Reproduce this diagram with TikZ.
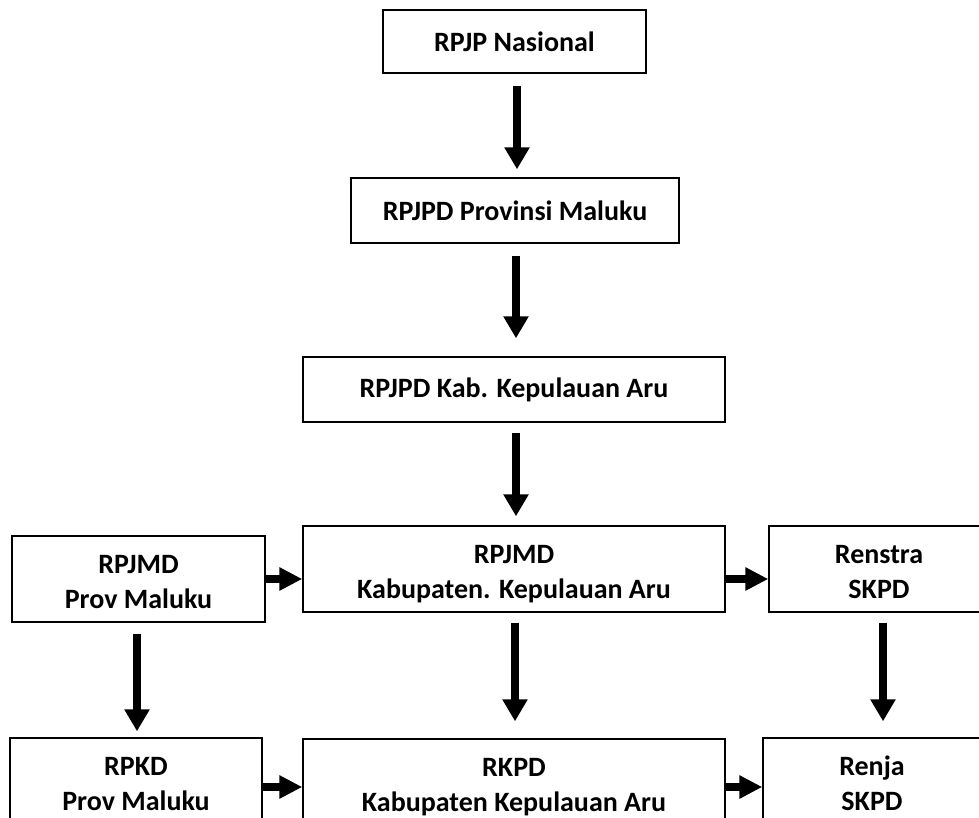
\documentclass[tikz,border=0pt]{standalone}
\usepackage{fontspec}
\setmainfont{Carlito}
\usetikzlibrary{arrows.meta}
\tikzset{
  box/.style={draw=black, line width=1.4pt, fill=white, align=center, inner sep=0pt,
    font=\bfseries\fontsize{28}{35}\selectfont},
  twoline/.style={box, minimum height=86pt, text height=59pt, text depth=0pt},
  varrow/.style={line width=8pt, -{Triangle[width=24pt,length=22pt]}},
  harrow/.style={line width=8pt, -{Triangle[width=22pt,length=23pt]}}
}
\begin{document}
\begin{tikzpicture}[x=1pt,y=-1pt]
\useasboundingbox (0,0) rectangle (979,818);
\clip (0,0) rectangle (979,818);
\node[box, minimum width=263pt, minimum height=63pt] (n1) at (514.5,41.5) {RPJP Nasional};
\node[box, minimum width=328pt, minimum height=65pt] (n2) at (515,210.5) {RPJPD Provinsi Maluku};
\node[box, minimum width=422pt, minimum height=65pt] (n3) at (514,389.5) {RPJPD Kab. Kepulauan Aru};
\node[twoline, minimum width=422pt] (n4) at (514,569) {RPJMD\\Kabupaten. Kepulauan Aru};
\node[twoline, minimum width=253pt] (n5) at (138.5,579) {RPJMD\\Prov Maluku};
\node[twoline, minimum width=220pt] (n6) at (879,569) {Renstra\\SKPD};
\node[twoline, minimum width=252pt] (n7) at (136,781) {RPKD\\Prov Maluku};
\node[twoline, minimum width=422pt] (n8) at (514,782) {RKPD\\Kabupaten Kepulauan Aru};
\node[twoline, minimum width=218pt] (n9) at (872,781) {Renja\\SKPD};
% vertical arrows
\draw[varrow] ([xshift=2.5pt,yshift=-12pt]n1.south) -- ([xshift=2.5pt,yshift=8pt]n1.south |- n2.north);
\draw[varrow] ([xshift=1pt,yshift=-12pt]n2.south) -- ([xshift=1pt,yshift=18pt]n2.south |- n3.north);
\draw[varrow] ([xshift=2pt,yshift=-10pt]n3.south) -- ([xshift=2pt,yshift=9pt]n3.south |- n4.north);
\draw[varrow] ([xshift=-1.5pt,yshift=-11pt]n5.south) -- ([xshift=-1.5pt,yshift=6pt]n5.south |- n7.north);
\draw[varrow] ([xshift=1pt,yshift=-10pt]n4.south) -- ([xshift=1pt,yshift=17pt]n4.south |- n8.north);
\draw[varrow] ([xshift=4pt,yshift=-10pt]n6.south) -- ([xshift=4pt,yshift=16pt]n6.south |- n9.north);
% horizontal arrows
\draw[harrow] (n5.east) -- (n5.east -| n4.west);
\draw[harrow] ([yshift=-10pt]n4.east) -- ([yshift=-10pt]n4.east -| n6.west);
\draw[harrow] ([yshift=-6pt]n7.east) -- ([yshift=-6pt]n7.east -| n8.west);
\draw[harrow] ([yshift=-5pt]n8.east) -- ([yshift=-5pt]n8.east -| n9.west);
\end{tikzpicture}
\end{document}
